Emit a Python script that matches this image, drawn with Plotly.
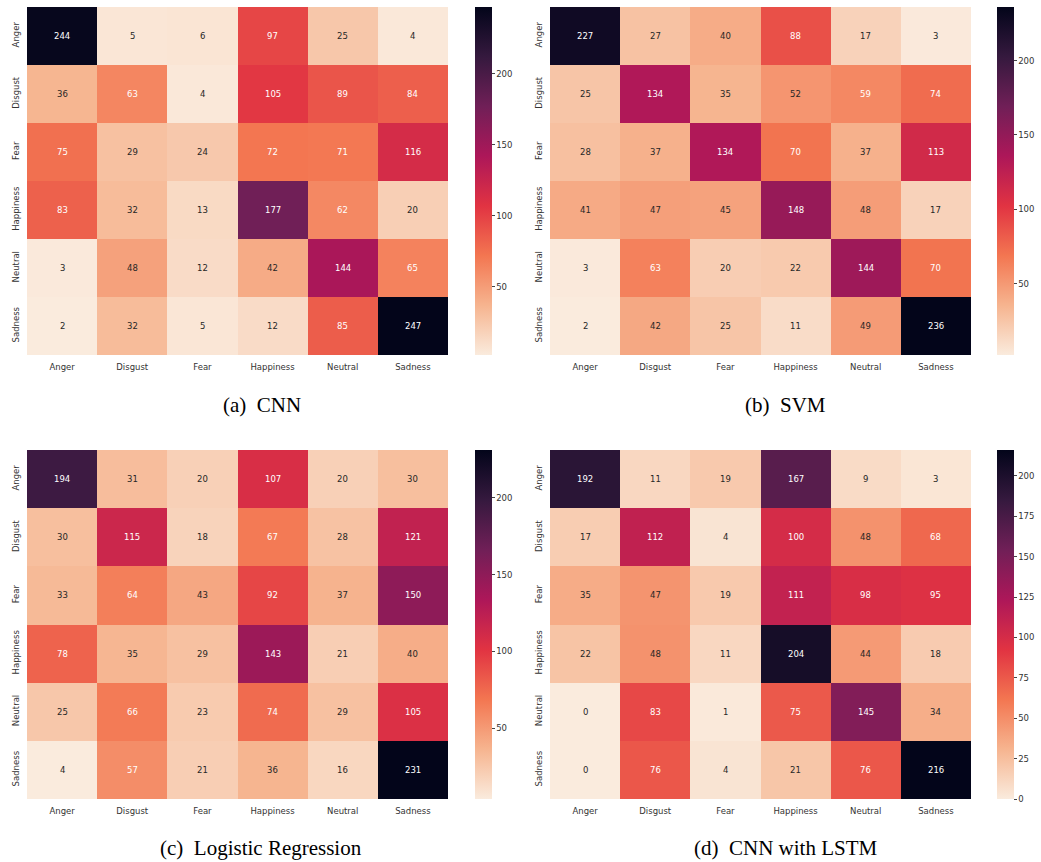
import plotly.graph_objects as go

labels = ["Anger", "Disgust", "Fear", "Happiness", "Neutral", "Sadness"]

cnn = [
    [244, 5, 6, 97, 25, 4],
    [36, 63, 4, 105, 89, 84],
    [75, 29, 24, 72, 71, 116],
    [83, 32, 13, 177, 62, 20],
    [3, 48, 12, 42, 144, 65],
    [2, 32, 5, 12, 85, 247],
]
svm = [
    [227, 27, 40, 88, 17, 3],
    [25, 134, 35, 52, 59, 74],
    [28, 37, 134, 70, 37, 113],
    [41, 47, 45, 148, 48, 17],
    [3, 63, 20, 22, 144, 70],
    [2, 42, 25, 11, 49, 236],
]
logreg = [
    [194, 31, 20, 107, 20, 30],
    [30, 115, 18, 67, 28, 121],
    [33, 64, 43, 92, 37, 150],
    [78, 35, 29, 143, 21, 40],
    [25, 66, 23, 74, 29, 105],
    [4, 57, 21, 36, 16, 231],
]
cnn_lstm = [
    [192, 11, 19, 167, 9, 3],
    [17, 112, 4, 100, 48, 68],
    [35, 47, 19, 111, 98, 95],
    [22, 48, 11, 204, 44, 18],
    [0, 83, 1, 75, 145, 34],
    [0, 76, 4, 21, 76, 216],
]
captions = ["(a)  CNN", "(b)  SVM", "(c)  Logistic Regression", "(d)  CNN with LSTM"]
cbar_ticks = [[50, 100, 150, 200], [50, 100, 150, 200], [50, 100, 150, 200],
              [0, 25, 50, 75, 100, 125, 150, 175, 200]]

# seaborn "rocket_r" approximation
rocket_pts = [
    (0.0, "#03051a"), (1/7, "#35193e"), (2/7, "#701f57"), (3/7, "#ad1759"),
    (4/7, "#e13342"), (5/7, "#f37651"), (6/7, "#f6b48f"), (1.0, "#faebdd"),
]
rocket_r = [[1 - p, c] for p, c in reversed(rocket_pts)]


def hex2rgb(h):
    h = h.lstrip("#")
    return [int(h[i:i + 2], 16) for i in (0, 2, 4)]


def sample(t):
    for (p0, c0), (p1, c1) in zip(rocket_r[:-1], rocket_r[1:]):
        if p0 <= t <= p1:
            f = 0 if p1 == p0 else (t - p0) / (p1 - p0)
            a, b = hex2rgb(c0), hex2rgb(c1)
            return [a[i] + (b[i] - a[i]) * f for i in range(3)]
    return hex2rgb(rocket_r[-1][1])


def lum(rgb):
    out = []
    for v in rgb:
        c = v / 255
        out.append(c / 12.92 if c <= 0.03928 else ((c + 0.055) / 1.055) ** 2.4)
    return 0.2126 * out[0] + 0.7152 * out[1] + 0.0722 * out[2]


W, H = 1041, 862


def px(x):
    return min(1.0, max(0.0, x / W))


def py(y):
    return min(1.0, max(0.0, 1 - y / H))


heat_x = [(27, 448), (550, 971), (27, 448), (550, 971)]
heat_y = [(7, 355), (7, 355), (450, 799), (450, 799)]
cbar_x = [475, 997, 475, 997]
cap_pos = [(262, 405), (785, 405), (261, 848), (785, 848)]

fig = go.Figure()
annotations = []
datasets = [cnn, svm, logreg, cnn_lstm]
font_fam = "DejaVu Sans"
for k, z in enumerate(datasets):
    zmin = min(min(r) for r in z)
    zmax = max(max(r) for r in z)
    xa = "x" if k == 0 else f"x{k + 1}"
    ya = "y" if k == 0 else f"y{k + 1}"
    y0, y1 = heat_y[k]
    fig.add_trace(go.Heatmap(
        z=z, x=labels, y=labels, xaxis=xa, yaxis=ya,
        colorscale=rocket_r, zmin=zmin, zmax=zmax,
        hoverinfo="skip",
        colorbar=dict(
            x=px(cbar_x[k]), xanchor="left", xpad=0, ypad=0,
            thickness=17, thicknessmode="pixels",
            len=(y1 - y0) / H, lenmode="fraction",
            y=py((y0 + y1) / 2), yanchor="middle",
            outlinewidth=0, tickvals=cbar_ticks[k], ticks="outside", ticklen=3,
            tickcolor="#444", tickwidth=1,
            tickfont=dict(family=font_fam, size=8.5, color="#333"),
        ),
    ))
    for i, row in enumerate(z):
        for j, v in enumerate(row):
            t = (v - zmin) / (zmax - zmin)
            col = "white" if lum(sample(t)) <= 0.408 else "#262626"
            annotations.append(dict(
                x=labels[j], y=labels[i], xref=xa, yref=ya, text=str(v),
                showarrow=False, font=dict(family=font_fam, size=8.5, color=col),
            ))
    cx, cy = cap_pos[k]
    annotations.append(dict(
        x=px(cx), y=py(cy), xref="paper", yref="paper",
        text=captions[k].replace("  ", "&nbsp;&nbsp;"),
        showarrow=False, xanchor="center", yanchor="middle",
        font=dict(family="Liberation Serif", size=21, color="black"),
    ))

layout = dict(
    width=W, height=H, margin=dict(l=0, r=0, t=0, b=0, autoexpand=False),
    paper_bgcolor="white", plot_bgcolor="white",
    annotations=annotations, showlegend=False,
)
for k in range(4):
    xn = "xaxis" if k == 0 else f"xaxis{k + 1}"
    yn = "yaxis" if k == 0 else f"yaxis{k + 1}"
    ya = "y" if k == 0 else f"y{k + 1}"
    xa = "x" if k == 0 else f"x{k + 1}"
    x0, x1 = heat_x[k]
    y0, y1 = heat_y[k]
    layout[xn] = dict(
        domain=[px(x0), px(x1)], anchor=ya, showgrid=False, zeroline=False,
        ticks="", showline=False, tickfont=dict(family=font_fam, size=8.5, color="#333"),
        tickangle=0, automargin=False, ticklabelstandoff=5,
    )
    layout[yn] = dict(
        domain=[py(y1), py(y0)], anchor=xa, showgrid=False, zeroline=False,
        ticks="", showline=False, autorange="reversed", automargin=False,
        tickfont=dict(family=font_fam, size=8.5, color="#333"), tickangle=-90,
        ticklabelstandoff=5,
    )
fig.update_layout(**layout)
fig.write_html(
    "out.html",
    config={"displayModeBar": False},
    post_script="document.body.style.margin='0';document.body.style.overflow='hidden';",
)
